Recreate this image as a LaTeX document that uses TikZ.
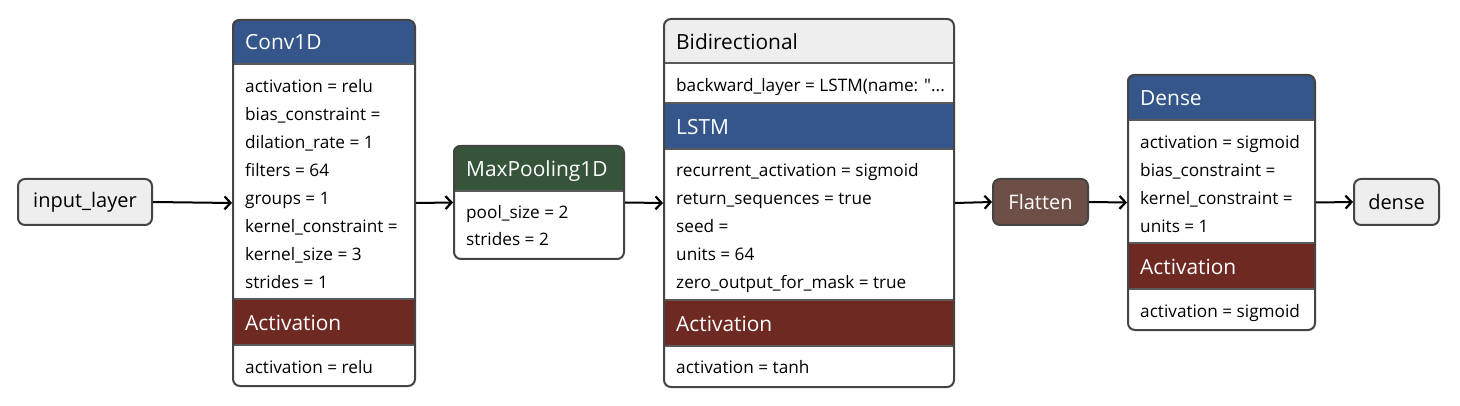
\documentclass[tikz,border=0pt]{standalone}
\usepackage{fontspec}
\setmainfont{Open Sans}
\usetikzlibrary{arrows.meta}
\definecolor{bordc}{HTML}{444444}
\definecolor{sepc}{HTML}{5A5A5A}
\definecolor{bluec}{HTML}{35568A}
\definecolor{greenc}{HTML}{36543A}
\definecolor{redc}{HTML}{6E2922}
\definecolor{brownc}{HTML}{6D4F47}
\definecolor{grayc}{HTML}{EEEEEE}
\newcommand\rowfont{\fontsize{17.2}{20}\selectfont}
\newcommand\hdrfont{\fontsize{20.9}{24}\selectfont}
\newcommand\pillfont{\fontsize{20}{24}\selectfont}
\newcommand\straightquote{{\addfontfeatures{Ligatures=TeXOff}"}}
\tikzset{
  frame/.style={draw=bordc, line width=2pt, rounded corners=7pt, inner sep=0pt, anchor=north west},
  hdr/.style={anchor=base west, inner sep=0pt, font=\hdrfont, text=white, yshift=-7.4pt},
  hdrdark/.style={hdr, text=black},
  row/.style={anchor=base west, inner sep=0pt, font=\rowfont, text=black, yshift=-6.1pt},
  sep/.style={draw=sepc, line width=1.4pt},
  conn/.style={-{Straight Barb[length=6pt,width=13pt,line width=2.2pt]}, line width=2pt, draw=black},
  pill/.style={draw=bordc, line width=2pt, rounded corners=7pt, inner sep=0pt, minimum height=46pt, font=\pillfont}
}
\begin{document}
\begin{tikzpicture}[x=1pt,y=-1pt]
\fill[white] (0,0) rectangle (1460,406);
\useasboundingbox (0,0) rectangle (1460,406);

% input layer
\node[pill, fill=grayc, minimum width=134pt] (inp) at (85,202) {input\_layer};

% Conv1D
\begin{scope}
\clip[rounded corners=7pt] (232,19) rectangle (414,385);
\fill[white] (232,19) rectangle (414,385);
\fill[bluec] (232,19) rectangle (414,64);
\fill[redc] (232,299) rectangle (414,345);
\end{scope}
\draw[sep] (232,64) -- (414,64);
\draw[sep] (232,299) -- (414,299);
\draw[sep] (232,345) -- (414,345);
\node[frame, minimum width=182pt, minimum height=366pt] (conv) at (232,19) {};
\node[hdr] (convh) at (245,42) {Conv1D};
\node[row] (c1) at (245,86) {activation = relu};
\node[row] (c2) at (245,114) {bias\_constraint =};
\node[row] (c3) at (245,142) {dilation\_rate = 1};
\node[row] (c4) at (245,170) {filters = 64};
\node[row] (c5) at (245,198) {groups = 1};
\node[row] (c6) at (245,226) {kernel\_constraint =};
\node[row] (c7) at (245,254) {kernel\_size = 3};
\node[row] (c8) at (245,282) {strides = 1};
\node[hdr] (cacth) at (245,323) {Activation};
\node[row] (c9) at (245,367) {activation = relu};

% MaxPooling1D
\begin{scope}
\clip[rounded corners=7pt] (453,145) rectangle (623,258);
\fill[white] (453,145) rectangle (623,258);
\fill[greenc] (453,145) rectangle (623,191);
\end{scope}
\draw[sep] (453,191) -- (623,191);
\node[frame, minimum width=170pt, minimum height=113pt] (pool) at (453,145) {};
\node[hdr] (poolh) at (466,169) {MaxPooling1D};
\node[row] (p1) at (466,212) {pool\_size = 2};
\node[row] (p2) at (466,239) {strides = 2};

% Bidirectional
\begin{scope}
\clip[rounded corners=7pt] (663,18) rectangle (953,386);
\fill[white] (663,18) rectangle (953,386);
\fill[grayc] (663,18) rectangle (953,63);
\fill[bluec] (663,103) rectangle (953,149);
\fill[redc] (663,300) rectangle (953,346);
\end{scope}
\draw[sep] (663,63) -- (953,63);
\draw[sep] (663,103) -- (953,103);
\draw[sep] (663,149) -- (953,149);
\draw[sep] (663,300) -- (953,300);
\draw[sep] (663,346) -- (953,346);
\node[frame, minimum width=290pt, minimum height=368pt] (bidi) at (663,18) {};
\node[hdrdark] (bidih) at (676,42) {Bidirectional};
\node[row] (b1) at (676,85) {backward\_layer = LSTM(name: \straightquote...};
\node[hdr] (lstmh) at (676,127) {LSTM};
\node[row] (b2) at (676,170) {recurrent\_activation = sigmoid};
\node[row] (b3) at (676,198) {return\_sequences = true};
\node[row] (b4) at (676,226) {seed =};
\node[row] (b5) at (676,254) {units = 64};
\node[row] (b6) at (676,282) {zero\_output\_for\_mask = true};
\node[hdr] (bacth) at (676,324) {Activation};
\node[row] (b7) at (676,367) {activation = tanh};

% Flatten
\node[pill, fill=brownc, text=white, minimum width=95pt] (flat) at (1040.5,202) {Flatten};

% Dense
\begin{scope}
\clip[rounded corners=7pt] (1127,74) rectangle (1314,329);
\fill[white] (1127,74) rectangle (1314,329);
\fill[bluec] (1127,74) rectangle (1314,120);
\fill[redc] (1127,243) rectangle (1314,289);
\end{scope}
\draw[sep] (1127,120) -- (1314,120);
\draw[sep] (1127,243) -- (1314,243);
\draw[sep] (1127,289) -- (1314,289);
\node[frame, minimum width=187pt, minimum height=255pt] (dense) at (1127,74) {};
\node[hdr] (denseh) at (1140,98) {Dense};
\node[row] (d1) at (1140,142) {activation = sigmoid};
\node[row] (d2) at (1140,170) {bias\_constraint =};
\node[row] (d3) at (1140,198) {kernel\_constraint =};
\node[row] (d4) at (1140,226) {units = 1};
\node[hdr] (dacth) at (1140,267) {Activation};
\node[row] (d5) at (1140,311) {activation = sigmoid};

% output
\node[pill, fill=grayc, minimum width=85pt] (out) at (1396.5,202) {dense};

% connectors
\draw[conn] (inp.east) -- (conv.west);
\draw[conn] (conv.east) -- (pool.west);
\draw[conn] (pool.east) -- (bidi.west);
\draw[conn] (bidi.east) -- (flat.west);
\draw[conn] (flat.east) -- (dense.west);
\draw[conn] (dense.east) -- (out.west);
\end{tikzpicture}
\end{document}
